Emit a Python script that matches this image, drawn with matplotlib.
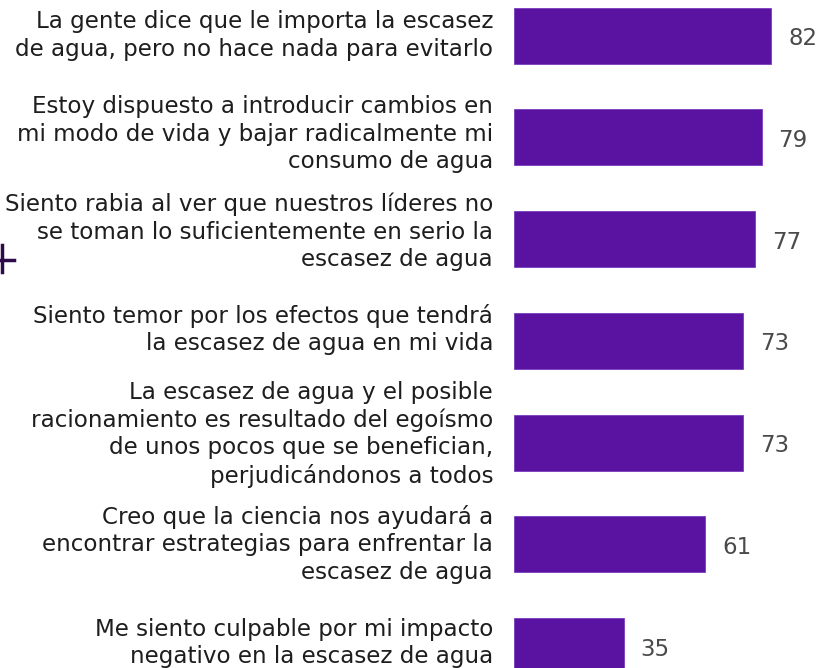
import matplotlib
matplotlib.use('Agg')
import matplotlib.pyplot as plt
from matplotlib.lines import Line2D

# Data
labels = [
    'La gente dice que le importa la escasez\nde agua, pero no hace nada para evitarlo',
    'Estoy dispuesto a introducir cambios en\nmi modo de vida y bajar radicalmente mi\nconsumo de agua',
    'Siento rabia al ver que nuestros líderes no\nse toman lo suficientemente en serio la\nescasez de agua',
    'Siento temor por los efectos que tendrá\nla escasez de agua en mi vida',
    'La escasez de agua y el posible\nracionamiento es resultado del egoísmo\nde unos pocos que se benefician,\nperjudicándonos a todos',
    'Creo que la ciencia nos ayudará a\nencontrar estrategias para enfrentar la\nescasez de agua',
    'Me siento culpable por mi impacto\nnegativo en la escasez de agua',
]
values = [82, 79, 77, 73, 73, 61, 35]

# layout: vertical nudge of each label block, in pixels (up is positive)
label_dy = [0, 3, 7, 11, 8, 0, 3]

W, H = 823, 668
fig = plt.figure(figsize=(W / 100, H / 100), dpi=100)

# axes from bar start (x=514px) to right edge
x0 = 514
px_per_unit = 257 / 82
step = 101.75
ax = fig.add_axes([x0 / W, 0, (W - x0) / W, 1])
ypos = list(range(len(values)))
ax.barh(ypos, values, height=56 / step, color='#5a13a0', edgecolor='#7a3cc0', linewidth=0.6)
ax.set_xlim(0, (W - x0) / px_per_unit)
ax.set_ylim((H - 35.5) / step, -35.5 / step)
ax.axis('off')

for y, v, lab, dy in zip(ypos, values, labels, label_dy):
    ax.text(v + 17 / px_per_unit, y + 0.03, str(v), va='center', ha='left',
            fontsize=16.5, color='#4a4a4a')
    ax.text(-21 / px_per_unit, y - dy / step, lab, va='center', ha='right', fontsize=16.6,
            color='#1e1e1e', linespacing=1.24, clip_on=False)

# small cross mark at the left edge
fig.add_artist(Line2D([1.5 / W, 1.5 / W], [1 - 245 / H, 1 - 272 / H], color='#2e0a4a', lw=2.5))
fig.add_artist(Line2D([0, 14 / W], [1 - 260 / H, 1 - 260 / H], color='#2e0a4a', lw=2.5))

fig.savefig('out.png', dpi=100)
